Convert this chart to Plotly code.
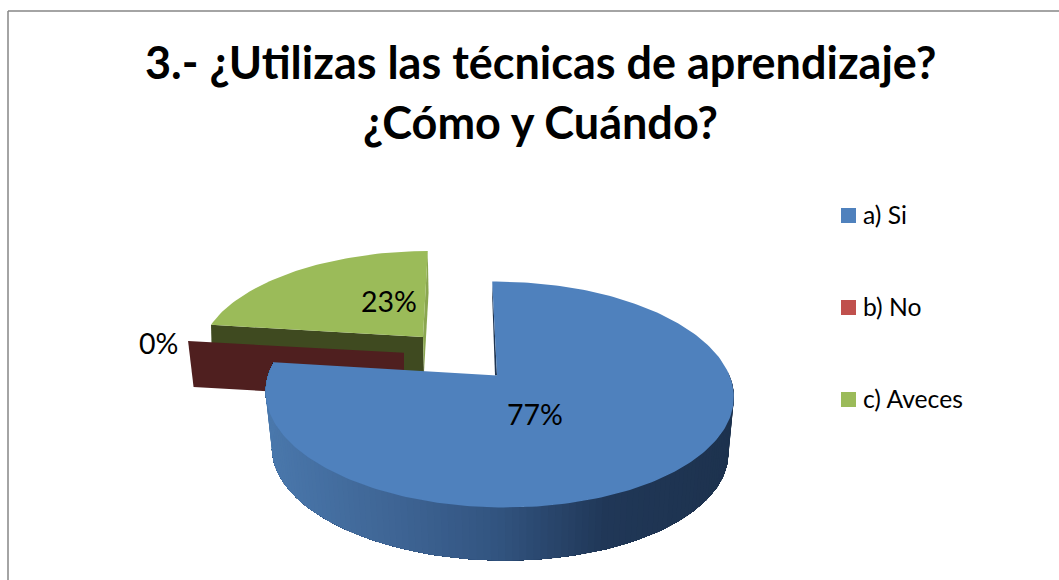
import numpy as np
import plotly.graph_objects as go

title_lines = ["3.- ¿Utilizas las técnicas de aprendizaje?", "¿Cómo y Cuándo?"]
categories = ["a) Si", "b) No", "c) Aveces"]
values = [77, 0, 23]
colors = ["#4F81BD", "#C0504D", "#9BBB59"]

FONT = "Lato"
K, M, A, B, S = 0.168, -0.01, 230.7, 109.8, -5.0
AX, AY = 496.5, 375.5
edges = np.cumsum([0] + values) / sum(values) * 360.0


def proj(deg, cx=AX, cy=AY, fx=1.0, fy=1.0, dy=0.0, s=S):
    """Project pie angle (deg, clockwise from 12 o'clock) to page pixels."""
    t = np.radians(np.asarray(deg, dtype=float))
    u, v = np.sin(t), np.cos(t)
    w = 1 + K * v + M * u
    return cx + fx * (A * u + s * v) / w, cy + dy - fy * B * v / w


def mix(stops, x):
    xs = [p[0] for p in stops]
    r = np.interp(x, xs, [p[1][0] for p in stops])
    g = np.interp(x, xs, [p[1][1] for p in stops])
    b = np.interp(x, xs, [p[1][2] for p in stops])
    return f"rgb({r:.0f},{g:.0f},{b:.0f})"


fig = go.Figure()


def poly(xs, ys, color, line=0):
    fig.add_trace(go.Scatter(
        x=list(xs), y=list(ys), mode="lines", fill="toself", fillcolor=color,
        line=dict(color=color, width=line), hoverinfo="skip", showlegend=False))


# exploded slice c) Aveces
g_kw = dict(cx=423.0, cy=337.0, fx=0.958, fy=0.915, s=5.8)
g_th = np.linspace(edges[2], edges[3], 60)
g0x, g0y = proj(edges[2], **g_kw)
g1x, g1y = proj(edges[3], **g_kw)
poly([g0x, 423.0, 424.0, g0x + 1], [g0y, 337.0, 375.0, g0y + 38], "#3F4A20")
poly([g1x, g1x + 0.8, 424.0, 423.0], [g1y, g1y + 42, 372.0, 337.0], "#8AA650")
gx, gy = proj(g_th, **g_kw)
poly(np.r_[423.0, gx], np.r_[337.0, gy], colors[2])

# exploded zero slice b) No: only its radial wall shows
r_kw = dict(cx=404.0, cy=352.7, fx=0.97, fy=0.87)
rx, ry = proj(edges[2], **r_kw)
poly([rx, 404.0, 404.0, rx + 5.5], [ry, 352.7, 399.0, ry + 46], "#4F1F1F")

# slice a) Si: radial wall, outer wall (painted end to end so no seams), top face
bx0, by0 = proj(edges[0])
poly([bx0, AX + 0.5, AX - 1.5, bx0], [by0, AY, AY, by0 + 16], "#1F3552")
wall_stops = [(265, (74, 120, 172)), (400, (62, 100, 148)), (500, (50, 84, 128)),
              (610, (32, 55, 87)), (735, (29, 50, 78))]
wall_th = np.arange(88, 278, 1.5)
for i, a in enumerate(wall_th[:-1]):
    seg = wall_th[i:]
    tx, ty = proj(seg)
    lx, ly = proj(seg[::-1], cx=AX + 0.5, fx=0.975, fy=0.975, dy=56.3)
    poly(np.r_[tx, lx], np.r_[ty, ly], mix(wall_stops, float(tx[0])))
b_th = np.linspace(edges[0], edges[1], 240)
bx, by = proj(b_th)
poly(np.r_[AX + 0.5, bx], np.r_[AY, by], colors[0])

# legend, drawn at its place in the page
legend_y = [215.5, 307.5, 399.5]
fig.add_trace(go.Scatter(
    x=[848.5] * 3, y=legend_y, mode="markers", hoverinfo="skip", showlegend=False,
    marker=dict(symbol="square", size=15, color=colors, line=dict(width=0))))

ann = [dict(x=860.5, y=yy - 1.5, text=c, xanchor="left", yanchor="middle", showarrow=False,
            font=dict(family=FONT, size=24.7, color="#000000"))
       for c, yy in zip(categories, legend_y)]
label_pos = [(535, 413.5), (158.5, 342.5), (389, 300.5)]
ann += [dict(x=p[0], y=p[1], text=f"{v}%", showarrow=False, xanchor="center", yanchor="middle",
             font=dict(family=FONT, size=28.5, color="#000000"))
        for v, p in zip(values, label_pos)]
ann += [dict(x=540, y=yy, text=f"<b>{t}</b>", showarrow=False, xanchor="center", yanchor="middle",
             font=dict(family=FONT, size=45, color="#000000"))
        for t, yy in zip(title_lines, [62, 122])]

fig.update_layout(
    width=1059, height=580, margin=dict(l=0, r=0, t=0, b=0),
    paper_bgcolor="#FFFFFF", plot_bgcolor="#FFFFFF", showlegend=False,
    xaxis=dict(range=[0, 1059], visible=False, fixedrange=True),
    yaxis=dict(range=[580, 0], visible=False, fixedrange=True),
    annotations=ann,
    shapes=[
        dict(type="line", x0=8, x1=8, y0=11, y1=580, line=dict(color="#868686", width=1.5)),
        dict(type="line", x0=8, x1=1059, y0=11, y1=11, line=dict(color="#868686", width=1.5)),
    ],
)
fig.write_html("out.html", post_script="document.body.style.margin='0';", config={"displayModeBar": False})
